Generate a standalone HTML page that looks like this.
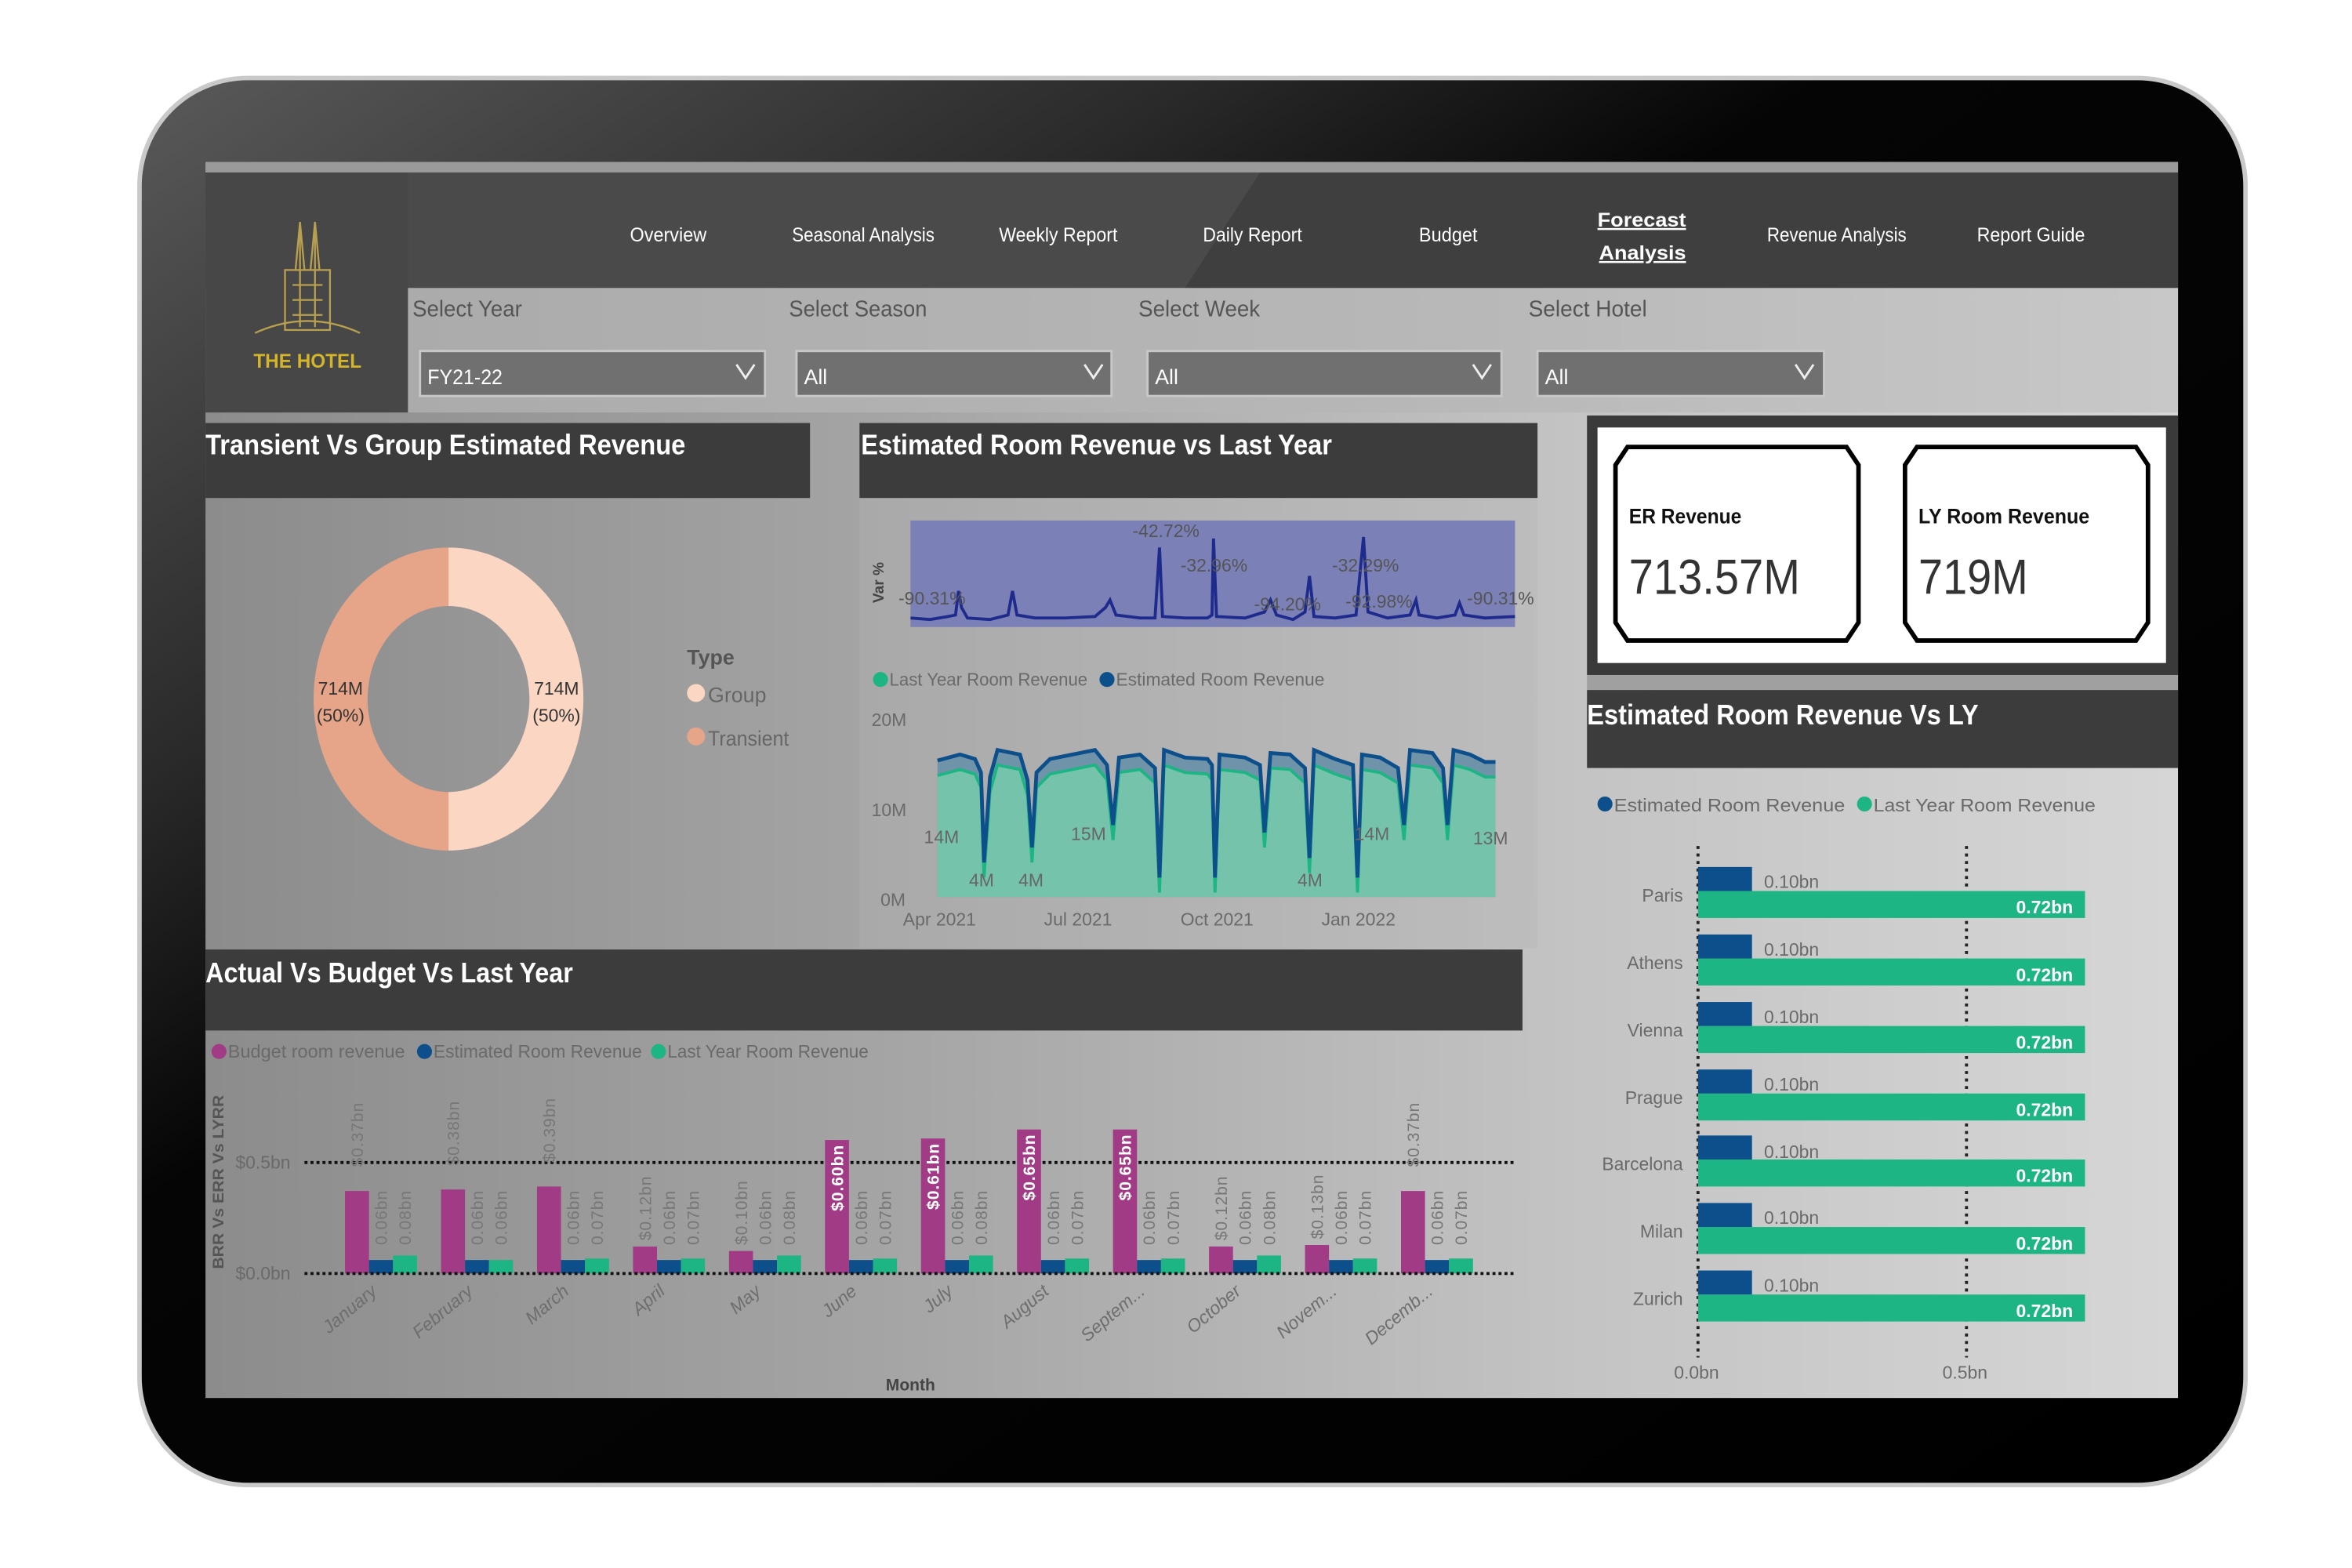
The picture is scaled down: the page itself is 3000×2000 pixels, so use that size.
<!DOCTYPE html>
<html><head><meta charset="utf-8"><style>
html,body{margin:0;padding:0;background:#fff;width:3000px;height:2000px;overflow:hidden}
svg{display:block}
text{font-family:"Liberation Sans",sans-serif}
.n{fill:#fff;font-size:13px}
.t{fill:#fff;font-size:19px;font-weight:bold}
.lab{fill:#555;font-size:15px}
.g{fill:#6a6a6a;font-size:12px}
.dl{fill:#777;font-size:11px;font-family:"DejaVu Sans",sans-serif;letter-spacing:0.5px}
.mo{fill:#6e6e6e;font-size:12px;font-style:italic}
</style></head><body>
<svg width="3000" height="2000" viewBox="0 0 1568 1045.33" preserveAspectRatio="none" xmlns="http://www.w3.org/2000/svg">
<defs>
<linearGradient id="tab" x1="0" y1="0" x2="1" y2="1">
<stop offset="0" stop-color="#5a5a5a"/><stop offset="0.25" stop-color="#2a2a2a"/><stop offset="0.4" stop-color="#050505"/><stop offset="1" stop-color="#000"/>
</linearGradient>
<linearGradient id="body" x1="0" y1="0" x2="1" y2="0">
<stop offset="0" stop-color="#8c8c8c"/><stop offset="0.35" stop-color="#a5a5a5"/><stop offset="0.7" stop-color="#c4c4c4"/><stop offset="1" stop-color="#d6d6d6"/>
</linearGradient>
<linearGradient id="filt" x1="0" y1="0" x2="1" y2="0">
<stop offset="0" stop-color="#ababab"/><stop offset="0.6" stop-color="#b8b8b8"/><stop offset="1" stop-color="#c8c8c8"/>
</linearGradient>
</defs>
<rect x="93" y="52" width="1404" height="938" rx="72" fill="url(#tab)" stroke="#c9c9c9" stroke-width="3"/>
<rect x="137" y="108" width="1315" height="824" fill="url(#body)"/>
<rect x="137" y="108" width="1315" height="7" fill="#9a9a9a"/>
<rect x="137" y="115" width="1315" height="77" fill="#4a4a4a"/>
<polygon points="840,115 1452,115 1452,192 790,192" fill="#333" opacity="0.5"/>
<rect x="137" y="115" width="135" height="160" fill="#474747"/>
<rect x="272" y="192" width="1180" height="83" fill="url(#filt)"/>
<g stroke="#b8a050" stroke-width="1.2" fill="none">
<path d="M170,222 Q205,206 240,222"/><rect x="190" y="180" width="30" height="40"/><line x1="200" y1="150" x2="200" y2="218"/><line x1="210" y1="150" x2="210" y2="218"/><path d="M197,180 L200,148 L203,180 M207,180 L210,148 L213,180"/>
<line x1="195" y1="190" x2="215" y2="190"/><line x1="195" y1="200" x2="215" y2="200"/><line x1="195" y1="210" x2="215" y2="210"/>
</g>
<text x="169" y="245" textLength="72" lengthAdjust="spacingAndGlyphs" fill="#d4b52a" font-size="13" font-weight="bold">THE HOTEL</text>
<text class="n" x="420" y="161" textLength="51" lengthAdjust="spacingAndGlyphs">Overview</text>
<text class="n" x="528" y="161" textLength="95" lengthAdjust="spacingAndGlyphs">Seasonal Analysis</text>
<text class="n" x="666" y="161" textLength="79" lengthAdjust="spacingAndGlyphs">Weekly Report</text>
<text class="n" x="802" y="161" textLength="66" lengthAdjust="spacingAndGlyphs">Daily Report</text>
<text class="n" x="946" y="161" textLength="39" lengthAdjust="spacingAndGlyphs">Budget</text>
<text class="n" x="1065" y="151" textLength="59" lengthAdjust="spacingAndGlyphs" font-weight="bold" font-size="16" text-decoration="underline">Forecast</text>
<text class="n" x="1066" y="173" textLength="58" lengthAdjust="spacingAndGlyphs" font-weight="bold" font-size="16" text-decoration="underline">Analysis</text>
<text class="n" x="1178" y="161" textLength="93" lengthAdjust="spacingAndGlyphs">Revenue Analysis</text>
<text class="n" x="1318" y="161" textLength="72" lengthAdjust="spacingAndGlyphs">Report Guide</text>
<text class="lab" x="275" y="211" textLength="73" lengthAdjust="spacingAndGlyphs">Select Year</text>
<text class="lab" x="526" y="211" textLength="92" lengthAdjust="spacingAndGlyphs">Select Season</text>
<text class="lab" x="759" y="211" textLength="81" lengthAdjust="spacingAndGlyphs">Select Week</text>
<text class="lab" x="1019" y="211" textLength="79" lengthAdjust="spacingAndGlyphs">Select Hotel</text>
<g fill="#707070" stroke="#c8c8c8" stroke-width="1.5">
<rect x="280" y="234" width="230" height="30"/><rect x="531" y="234" width="210" height="30"/><rect x="765" y="234" width="236" height="30"/><rect x="1025" y="234" width="191" height="30"/>
</g>
<g fill="#fff" font-size="14"><text x="285" y="256" textLength="50" lengthAdjust="spacingAndGlyphs">FY21-22</text><text x="536" y="256">All</text><text x="770" y="256">All</text><text x="1030" y="256">All</text></g>
<g stroke="#eee" stroke-width="1.5" fill="none">
<path d="M491,243 L497,252 L503,243"/><path d="M723,243 L729,252 L735,243"/><path d="M982,243 L988,252 L994,243"/><path d="M1197,243 L1203,252 L1209,243"/>
</g>
<rect x="137" y="282" width="403" height="50" fill="#3c3c3c"/>
<text class="t" x="137" y="303" textLength="320" lengthAdjust="spacingAndGlyphs">Transient Vs Group Estimated Revenue</text>
<rect x="573" y="282" width="452" height="50" fill="#3c3c3c"/>
<text class="t" x="574" y="303" textLength="314" lengthAdjust="spacingAndGlyphs">Estimated Room Revenue vs Last Year</text>
<rect x="573" y="332" width="452" height="300" fill="#b4b4b4" opacity="0.35"/>
<rect x="137" y="633" width="878" height="54" fill="#3c3c3c"/>
<text class="t" x="137" y="655" textLength="245" lengthAdjust="spacingAndGlyphs">Actual Vs Budget Vs Last Year</text>
<rect x="1058" y="277" width="394" height="173" fill="#3a3a3a"/>
<rect x="1065" y="285" width="379" height="157" fill="#fff"/>
<polygon points="1085,298 1231,298 1239,310 1239,415 1231,427 1085,427 1077,415 1077,310" fill="#fff" stroke="#000" stroke-width="3"/>
<polygon points="1278,298 1424,298 1432,310 1432,415 1424,427 1278,427 1270,415 1270,310" fill="#fff" stroke="#000" stroke-width="3"/>
<text x="1086" y="349" font-size="14" font-weight="bold" fill="#111" textLength="75" lengthAdjust="spacingAndGlyphs">ER Revenue</text>
<text x="1086" y="396" font-size="33" fill="#333" textLength="114" lengthAdjust="spacingAndGlyphs">713.57M</text>
<text x="1279" y="349" font-size="14" font-weight="bold" fill="#111" textLength="114" lengthAdjust="spacingAndGlyphs">LY Room Revenue</text>
<text x="1279" y="396" font-size="33" fill="#333" textLength="73" lengthAdjust="spacingAndGlyphs">719M</text>
<rect x="1058" y="450" width="394" height="10" fill="#a0a0a0"/>
<rect x="1058" y="460" width="394" height="52" fill="#3c3c3c"/>
<text class="t" x="1058" y="483" textLength="261" lengthAdjust="spacingAndGlyphs">Estimated Room Revenue Vs LY</text>
<path d="M299,365 A90,101 0 0 0 299,567 L299,528 A54,62 0 0 1 299,404 Z" fill="#e6a588"/>
<path d="M299,365 A90,101 0 0 1 299,567 L299,528 A54,62 0 0 0 299,404 Z" fill="#fbd6c3"/>
<g fill="#333" font-size="12" text-anchor="middle"><text x="227" y="463">714M</text><text x="227" y="481">(50%)</text><text x="371" y="463">714M</text><text x="371" y="481">(50%)</text></g>
<text x="458" y="443" font-size="14" font-weight="bold" fill="#555">Type</text>
<circle cx="464" cy="462" r="6" fill="#fbd6c3"/><text x="472" y="468" font-size="14" fill="#666">Group</text>
<circle cx="464" cy="491" r="6" fill="#e6a588"/><text x="472" y="497" font-size="14" fill="#666" textLength="54" lengthAdjust="spacingAndGlyphs">Transient</text>
<rect x="607" y="347" width="403" height="71" fill="#7b80b6"/>
<text x="589" y="402" font-size="10" font-weight="bold" fill="#444" transform="rotate(-90 589 402)">Var %</text>
<polyline fill="none" stroke="#1e2a8c" stroke-width="2" points="607,412 620,413 632,411 637,410 639,394 641,405 645,412 660,413 672,410 675,394 678,410 690,412 710,412 730,411 737,405 740,400 744,410 760,412 770,412 773,365 775,411 790,412 805,412 808,410 809,359 811,411 830,412 843,408 847,400 851,410 862,413 870,408 873,384 876,411 890,412 904,410 909,358 912,408 925,412 940,410 944,400 946,410 958,412 970,410 973,402 976,410 990,412 1010,411"/>
<g fill="#555" font-size="12"><text x="599" y="403">-90.31%</text><text x="755" y="358">-42.72%</text><text x="787" y="381">-32.96%</text><text x="888" y="381">-32.29%</text><text x="836" y="407">-94.20%</text><text x="897" y="405">-92.98%</text><text x="978" y="403">-90.31%</text></g>
<circle cx="587" cy="453" r="5" fill="#1db584"/><text x="593" y="457" class="g" textLength="132" lengthAdjust="spacingAndGlyphs">Last Year Room Revenue</text>
<circle cx="738" cy="453" r="5" fill="#0d4f8b"/><text x="744" y="457" class="g" textLength="139" lengthAdjust="spacingAndGlyphs">Estimated Room Revenue</text>
<g class="g" font-size="12"><text x="581" y="484">20M</text><text x="581" y="544">10M</text><text x="587" y="604">0M</text>
<text x="602" y="617">Apr 2021</text><text x="696" y="617">Jul 2021</text><text x="787" y="617">Oct 2021</text><text x="881" y="617">Jan 2022</text></g>
<polygon fill="#6f93a8" points="625,598 625,507 640,503 650,506 654,515 656,580 660,518 665,500 680,503 685,520 688,570 691,515 700,506 715,503 730,500 738,510 742,555 746,505 760,503 770,512 773,590 776,500 790,505 805,506 808,510 810,590 813,503 830,505 840,510 843,560 847,502 860,503 870,512 873,577 876,500 890,506 902,510 905,590 908,503 920,505 932,512 936,555 940,500 955,502 962,512 965,555 969,500 980,503 990,508 997,508 997,598"/>
<polygon fill="#76c3ac" points="625,598 625,517 640,513 650,516 654,525 656,585 660,528 665,510 680,513 685,530 688,575 691,525 700,516 715,513 730,510 738,520 742,560 746,515 760,513 770,522 773,595 776,510 790,515 805,516 808,520 810,595 813,513 830,515 840,520 843,565 847,512 860,513 870,522 873,582 876,510 890,516 902,520 905,595 908,513 920,515 932,522 936,560 940,510 955,512 962,522 965,560 969,510 980,513 990,518 997,518 997,598"/>
<polyline fill="none" stroke="#1db584" stroke-width="2" points="625,517 640,513 650,516 654,525 656,585 660,528 665,510 680,513 685,530 688,575 691,525 700,516 715,513 730,510 738,520 742,560 746,515 760,513 770,522 773,595 776,510 790,515 805,516 808,520 810,595 813,513 830,515 840,520 843,565 847,512 860,513 870,522 873,582 876,510 890,516 902,520 905,595 908,513 920,515 932,522 936,560 940,510 955,512 962,522 965,560 969,510 980,513 990,518 997,518"/>
<polyline fill="none" stroke="#0d4f8b" stroke-width="2.5" points="625,507 640,503 650,506 654,515 656,575 660,518 665,500 680,503 685,520 688,565 691,515 700,506 715,503 730,500 738,510 742,550 746,505 760,503 770,512 773,585 776,500 790,505 805,506 808,510 810,585 813,503 830,505 840,510 843,555 847,502 860,503 870,512 873,572 876,500 890,506 902,510 905,585 908,503 920,505 932,512 936,550 940,500 955,502 962,512 965,550 969,500 980,503 990,508 997,508"/>
<g fill="#666" font-size="12"><text x="616" y="562">14M</text><text x="714" y="560">15M</text><text x="903" y="560">14M</text><text x="982" y="563">13M</text><text x="646" y="591">4M</text><text x="679" y="591">4M</text><text x="865" y="591">4M</text></g>
<circle cx="1070" cy="536" r="5" fill="#0d4f8b"/><text x="1076" y="541" class="g" font-size="13" textLength="154" lengthAdjust="spacingAndGlyphs">Estimated Room Revenue</text>
<circle cx="1243" cy="536" r="5" fill="#1db584"/><text x="1249" y="541" class="g" font-size="13" textLength="148" lengthAdjust="spacingAndGlyphs">Last Year Room Revenue</text>
<line x1="1132" y1="564" x2="1132" y2="905" stroke="#222" stroke-width="2" stroke-dasharray="2,3"/>
<line x1="1311" y1="564" x2="1311" y2="905" stroke="#222" stroke-width="2" stroke-dasharray="2,3"/>
<g class="g" font-size="12"><text x="1116" y="919">0.0bn</text><text x="1295" y="919">0.5bn</text></g>
<g fill="#1db584"><rect x="1132" y="594" width="258" height="18"/><rect x="1132" y="639" width="258" height="18"/><rect x="1132" y="684" width="258" height="18"/><rect x="1132" y="729" width="258" height="18"/><rect x="1132" y="773" width="258" height="18"/><rect x="1132" y="818" width="258" height="18"/><rect x="1132" y="863" width="258" height="18"/></g>
<g fill="#0d4f8b"><rect x="1132" y="578" width="36" height="16"/><rect x="1132" y="623" width="36" height="16"/><rect x="1132" y="668" width="36" height="16"/><rect x="1132" y="713" width="36" height="16"/><rect x="1132" y="757" width="36" height="16"/><rect x="1132" y="802" width="36" height="16"/><rect x="1132" y="847" width="36" height="16"/></g>
<g class="g" font-size="12" text-anchor="end"><text x="1122" y="601">Paris</text><text x="1122" y="646">Athens</text><text x="1122" y="691">Vienna</text><text x="1122" y="736">Prague</text><text x="1122" y="780">Barcelona</text><text x="1122" y="825">Milan</text><text x="1122" y="870">Zurich</text></g>
<g class="g" font-size="12"><text x="1176" y="592">0.10bn</text><text x="1176" y="637">0.10bn</text><text x="1176" y="682">0.10bn</text><text x="1176" y="727">0.10bn</text><text x="1176" y="772">0.10bn</text><text x="1176" y="816">0.10bn</text><text x="1176" y="861">0.10bn</text></g>
<g fill="#fff" font-size="12" font-weight="bold" text-anchor="end"><text x="1382" y="609">0.72bn</text><text x="1382" y="654">0.72bn</text><text x="1382" y="699">0.72bn</text><text x="1382" y="744">0.72bn</text><text x="1382" y="788">0.72bn</text><text x="1382" y="833">0.72bn</text><text x="1382" y="878">0.72bn</text></g>
<circle cx="146" cy="701" r="5" fill="#a23b86"/><text x="152" y="705" class="g" textLength="118" lengthAdjust="spacingAndGlyphs">Budget room revenue</text>
<circle cx="283" cy="701" r="5" fill="#0d4f8b"/><text x="289" y="705" class="g" textLength="139" lengthAdjust="spacingAndGlyphs">Estimated Room Revenue</text>
<circle cx="439" cy="701" r="5" fill="#1db584"/><text x="445" y="705" class="g" textLength="134" lengthAdjust="spacingAndGlyphs">Last Year Room Revenue</text>
<text x="149" y="846" font-size="10" font-weight="bold" fill="#555" font-family="DejaVu Sans,sans-serif" transform="rotate(-90 149 846)" textLength="116" lengthAdjust="spacingAndGlyphs">BRR Vs ERR Vs LYRR</text>
<g class="g" font-size="12"><text x="157" y="779">$0.5bn</text><text x="157" y="853">$0.0bn</text></g>
<line x1="203" y1="775" x2="1010" y2="775" stroke="#111" stroke-width="2" stroke-dasharray="2,2"/>
<g fill="#a23b86">
<rect x="230" y="794" width="16" height="55"/><rect x="294" y="793" width="16" height="56"/><rect x="358" y="791" width="16" height="58"/><rect x="422" y="831" width="16" height="18"/><rect x="486" y="834" width="16" height="15"/><rect x="550" y="760" width="16" height="89"/><rect x="614" y="759" width="16" height="90"/><rect x="678" y="753" width="16" height="96"/><rect x="742" y="753" width="16" height="96"/><rect x="806" y="831" width="16" height="18"/><rect x="870" y="830" width="16" height="19"/><rect x="934" y="794" width="16" height="55"/>
</g>
<g fill="#0d4f8b">
<rect x="246" y="840" width="16" height="9"/><rect x="310" y="840" width="16" height="9"/><rect x="374" y="840" width="16" height="9"/><rect x="438" y="840" width="16" height="9"/><rect x="502" y="840" width="16" height="9"/><rect x="566" y="840" width="16" height="9"/><rect x="630" y="840" width="16" height="9"/><rect x="694" y="840" width="16" height="9"/><rect x="758" y="840" width="16" height="9"/><rect x="822" y="840" width="16" height="9"/><rect x="886" y="840" width="16" height="9"/><rect x="950" y="840" width="16" height="9"/>
</g>
<g fill="#1db584">
<rect x="262" y="837" width="16" height="12"/><rect x="326" y="840" width="16" height="9"/><rect x="390" y="839" width="16" height="10"/><rect x="454" y="839" width="16" height="10"/><rect x="518" y="837" width="16" height="12"/><rect x="582" y="839" width="16" height="10"/><rect x="646" y="837" width="16" height="12"/><rect x="710" y="839" width="16" height="10"/><rect x="774" y="839" width="16" height="10"/><rect x="838" y="837" width="16" height="12"/><rect x="902" y="839" width="16" height="10"/><rect x="966" y="839" width="16" height="10"/>
</g>
<line x1="203" y1="849" x2="1010" y2="849" stroke="#111" stroke-width="2" stroke-dasharray="2,2"/>
<g class="dl">
<text transform="translate(242,778) rotate(-90)">$0.37bn</text>
<text transform="translate(306,777) rotate(-90)">$0.38bn</text>
<text transform="translate(370,775) rotate(-90)">$0.39bn</text>
<text transform="translate(434,827) rotate(-90)">$0.12bn</text>
<text transform="translate(498,830) rotate(-90)">$0.10bn</text>
<text transform="translate(818,827) rotate(-90)">$0.12bn</text>
<text transform="translate(882,826) rotate(-90)">$0.13bn</text>
<text transform="translate(946,778) rotate(-90)">$0.37bn</text>
</g>
<g class="dl" font-weight="bold" text-anchor="end" style="fill:#fff">
<text transform="translate(562,763) rotate(-90)">$0.60bn</text>
<text transform="translate(626,762) rotate(-90)">$0.61bn</text>
<text transform="translate(690,756) rotate(-90)">$0.65bn</text>
<text transform="translate(754,756) rotate(-90)">$0.65bn</text>
</g>
<g class="dl">
<text transform="translate(258,830) rotate(-90)">0.06bn</text><text transform="translate(274,830) rotate(-90)">0.08bn</text>
<text transform="translate(322,830) rotate(-90)">0.06bn</text><text transform="translate(338,830) rotate(-90)">0.06bn</text>
<text transform="translate(386,830) rotate(-90)">0.06bn</text><text transform="translate(402,830) rotate(-90)">0.07bn</text>
<text transform="translate(450,830) rotate(-90)">0.06bn</text><text transform="translate(466,830) rotate(-90)">0.07bn</text>
<text transform="translate(514,830) rotate(-90)">0.06bn</text><text transform="translate(530,830) rotate(-90)">0.08bn</text>
<text transform="translate(578,830) rotate(-90)">0.06bn</text><text transform="translate(594,830) rotate(-90)">0.07bn</text>
<text transform="translate(642,830) rotate(-90)">0.06bn</text><text transform="translate(658,830) rotate(-90)">0.08bn</text>
<text transform="translate(706,830) rotate(-90)">0.06bn</text><text transform="translate(722,830) rotate(-90)">0.07bn</text>
<text transform="translate(770,830) rotate(-90)">0.06bn</text><text transform="translate(786,830) rotate(-90)">0.07bn</text>
<text transform="translate(834,830) rotate(-90)">0.06bn</text><text transform="translate(850,830) rotate(-90)">0.08bn</text>
<text transform="translate(898,830) rotate(-90)">0.06bn</text><text transform="translate(914,830) rotate(-90)">0.07bn</text>
<text transform="translate(962,830) rotate(-90)">0.06bn</text><text transform="translate(978,830) rotate(-90)">0.07bn</text>
</g>
<g class="mo" text-anchor="end">
<text transform="translate(252,862) rotate(-40)">January</text>
<text transform="translate(316,862) rotate(-40)">February</text>
<text transform="translate(380,862) rotate(-40)">March</text>
<text transform="translate(444,862) rotate(-40)">April</text>
<text transform="translate(508,862) rotate(-40)">May</text>
<text transform="translate(572,862) rotate(-40)">June</text>
<text transform="translate(636,862) rotate(-40)">July</text>
<text transform="translate(700,862) rotate(-40)">August</text>
<text transform="translate(764,862) rotate(-40)">Septem...</text>
<text transform="translate(828,862) rotate(-40)">October</text>
<text transform="translate(892,862) rotate(-40)">Novem...</text>
<text transform="translate(956,862) rotate(-40)">Decemb...</text>
</g>
<text x="607" y="927" text-anchor="middle" font-size="11" font-weight="bold" fill="#444">Month</text>
</svg>
</body></html>
